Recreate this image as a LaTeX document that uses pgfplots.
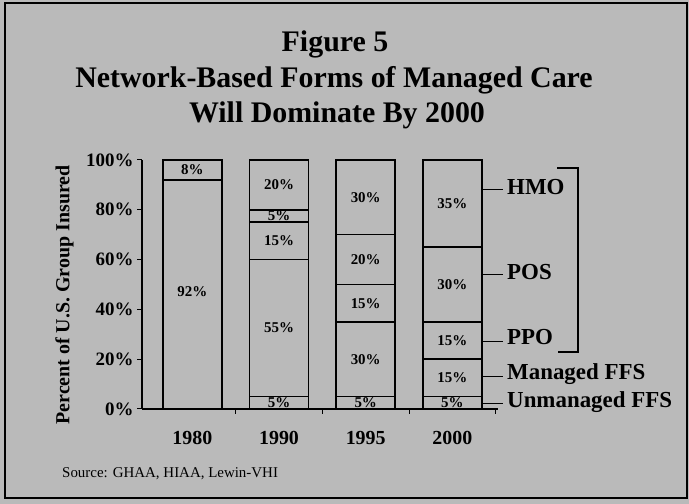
\documentclass[border=0pt]{standalone}
\usepackage{pgfplots}
\pgfplotsset{compat=1.18}
\usepackage{fontspec}
\setmainfont{Liberation Serif}
\definecolor{bg}{RGB}{186,186,186}
\newcommand\fs[1]{\fontsize{#1}{#1}\selectfont}

\begin{document}
\begin{tikzpicture}[x=1bp,y=1bp]
\fill[bg] (0,0) rectangle (689,504);
\draw[line width=1.5bp] (5,6) rectangle (687,501);
\node[anchor=base, font=\bfseries\fs{30}] at (335,452) {Figure 5};
\node[anchor=base, font=\bfseries\fs{30}] at (334,416) {Network-Based Forms of Managed Care};
\node[anchor=base, font=\bfseries\fs{30}] at (337,381) {Will Dominate By 2000};
\node[anchor=base west, font=\fs{15}, inner sep=0pt] at (62,26) {Source: GHAA, HIAA, Lewin-VHI};

\begin{axis}[
  at={(142bp,95bp)}, anchor=south west, scale only axis,
  width=355.5bp, height=249bp,
  xmin=-0.58, xmax=3.52, ymin=0, ymax=100, enlargelimits=false,
  ybar stacked, bar width=59bp,
  axis x line=bottom, axis y line=left,
  axis line style={-, line width=1.5bp},
  tick align=outside, major tick length=5bp, minor tick length=5bp,
  ytick={0,20,40,60,80,100},
  yticklabels={0\%,20\%,40\%,60\%,80\%,100\%},
  yticklabel style={font=\bfseries\fs{19}},
  ytick style={line width=1bp, black},
  xtick={0,1,2,3},
  xticklabels={1980,1990,1995,2000},
  major x tick style={draw=none},
  minor xtick={0.5,1.5,2.5,3.5},
  minor x tick style={line width=1bp, black},
  xticklabel style={font=\bfseries\fs{20}, anchor=base, yshift=-31bp},
  ylabel={\bfseries Percent of U.S. Group Insured},
  ylabel style={font=\fs{20}, at={(axis description cs:-0.218,0.458)}, anchor=center},
  clip=false,
]
\addplot[fill=bg, draw=black, line width=1.5bp] coordinates {(0,92) (1,5) (2,5) (3,5)};   % Unmanaged FFS
\addplot[fill=bg, draw=black, line width=1.5bp] coordinates {(0,0) (1,55) (2,30) (3,15)};  % Managed FFS
\addplot[fill=bg, draw=black, line width=1.5bp] coordinates {(0,0) (1,15) (2,15) (3,15)};  % PPO
\addplot[fill=bg, draw=black, line width=1.5bp] coordinates {(0,0) (1,5) (2,20) (3,30)};   % POS
\addplot[fill=bg, draw=black, line width=1.5bp] coordinates {(0,8) (1,20) (2,30) (3,35)};  % HMO
\end{axis}

\begin{axis}[
  at={(142bp,95bp)}, anchor=south west, scale only axis,
  width=355.5bp, height=249bp,
  xmin=-0.58, xmax=3.52, ymin=0, ymax=100, enlargelimits=false,
  hide axis, clip=false,
]
\addplot[draw=none, mark=none, point meta=explicit,
  nodes near coords={\pgfmathprintnumber[assume math mode=true]{\pgfplotspointmeta}\%},
  nodes near coords align={center},
  every node near coord/.append style={font=\bfseries\fs{15}}]
  table[meta=v] {
x y v
0 47 92
0 96 8
1 2.5 5
1 32.5 55
1 67.5 15
1 77.5 5
1 90 20
2 2.5 5
2 20 30
2 42.5 15
2 60 20
2 85 30
3 2.5 5
3 12.5 15
3 27.5 15
3 50 30
3 82.5 35
};
\end{axis}

% legend leader lines and labels
\begin{scope}[line width=1bp]
\draw (481,314) -- (503,314);
\draw (481,229) -- (503,229);
\draw (481,162) -- (503,162);
\draw (481,127) -- (503,127);
\draw (481,100) -- (503,100);
\draw[line width=1.5bp] (557,336) -- (578,336) -- (578,152) -- (558,152);
\end{scope}
\begin{scope}[every node/.style={anchor=base west, inner sep=0pt, font=\bfseries\fs{23}}]
\node at (507,309) {HMO};
\node at (507,224) {POS};
\node at (507,159) {PPO};
\node at (507,124) {Managed FFS};
\node at (507,96) {Unmanaged FFS};
\end{scope}
\end{tikzpicture}
\end{document}
